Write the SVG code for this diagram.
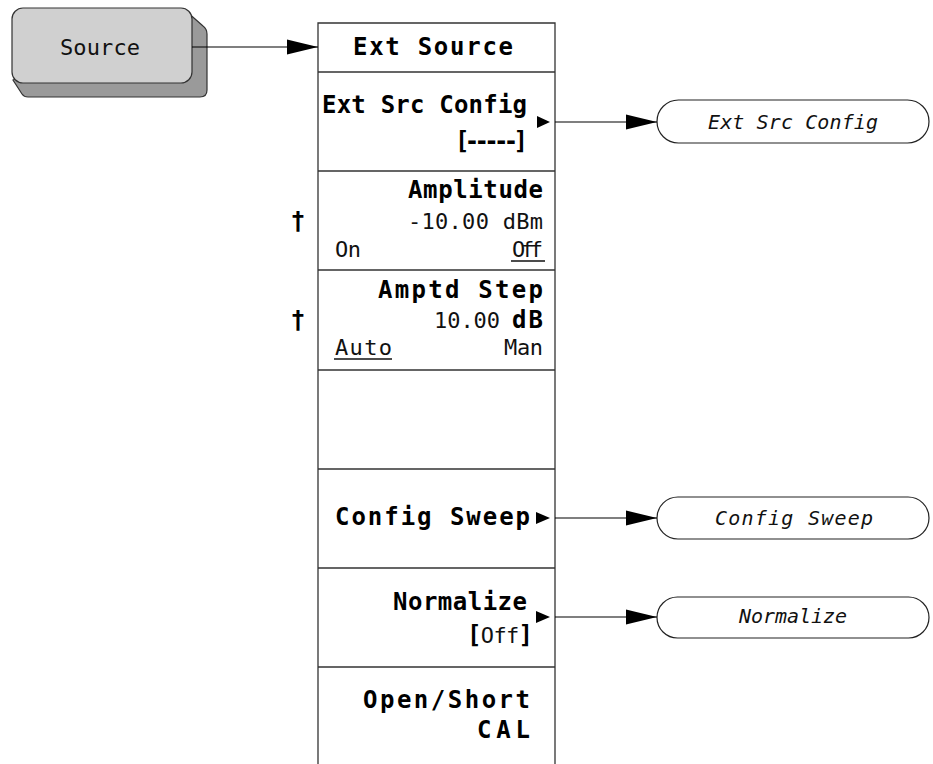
<svg xmlns="http://www.w3.org/2000/svg" width="933" height="764" viewBox="0 0 933 764">
<style>
.b{font-family:"DejaVu Sans Mono","Liberation Mono",monospace;font-weight:bold;font-size:24px;fill:#000}
.r{font-family:"DejaVu Sans Mono","Liberation Mono",monospace;font-size:22px;fill:#111}
.i{font-family:"DejaVu Sans Mono","Liberation Mono",monospace;font-style:italic;font-size:20px;fill:#111}
.ln{stroke:#333;stroke-width:1.3;fill:none}
.cn{stroke:#000;stroke-width:1.2;fill:none}
.ov{fill:#fff;stroke:#222;stroke-width:1.2}
.tri{fill:#000}
</style>
<defs>
<marker id="ah" markerUnits="userSpaceOnUse" markerWidth="31" markerHeight="18" refX="31" refY="9" orient="auto">
<path d="M0,1.5 L31,9 L0,16.5 Z" fill="#000"/>
</marker>
</defs>
<rect width="933" height="764" fill="#fff"/>

<g id="source">
<path d="M186 11 L203 26 Q207 29 207 34 L207 90 Q207 97 200 97 L28 97 Q24 97 22 94 L13 80 Z" fill="#9a9a9a" stroke="#333" stroke-width="1.2"/>
<rect x="12" y="8" width="180" height="75" rx="11" fill="#d0d0d0" stroke="#333" stroke-width="1.2"/>
<text class="r" x="60" y="55" textLength="80" lengthAdjust="spacing">Source</text>
</g>

<g id="menu">
<path class="ln" d="M318 764 L318 23 L555 23 L555 764"/>
<path class="ln" d="M318 72 H555 M318 171 H555 M318 270 H555 M318 370 H555 M318 469 H555 M318 568 H555 M318 667 H555"/>
</g>

<g id="ext-source">
<text class="b" x="353" y="55" textLength="160" lengthAdjust="spacing">Ext Source</text>
</g>

<g id="ext-src-config-key">
<text class="b" x="322" y="113" textLength="205" lengthAdjust="spacing">Ext Src Config</text>
<text class="b" x="455" y="149" textLength="73" lengthAdjust="spacing">[-----]</text>
<polygon class="tri" points="537,116 550,122 537,128"/>
</g>

<g id="amplitude">
<text class="b" x="408" y="198" textLength="135" lengthAdjust="spacing">Amplitude</text>
<text class="r" x="408" y="229" textLength="135" lengthAdjust="spacing">-10.00 dBm</text>
<text class="r" x="335" y="257" textLength="26" lengthAdjust="spacing">On</text>
<text class="r" x="512" y="257" textLength="31" lengthAdjust="spacing">Off</text>
<line x1="511" y1="261" x2="545" y2="261" stroke="#111" stroke-width="1.5"/>
<text class="b" x="298" y="229" text-anchor="middle">†</text>
</g>

<g id="amptd-step">
<text class="b" x="378" y="298" textLength="165" lengthAdjust="spacing">Amptd Step</text>
<text class="r" x="434" y="328" textLength="66" lengthAdjust="spacing">10.00</text>
<text class="b" x="512" y="328" textLength="31" lengthAdjust="spacing">dB</text>
<text class="r" x="335" y="355" textLength="57" lengthAdjust="spacing">Auto</text>
<line x1="334" y1="359" x2="392" y2="359" stroke="#111" stroke-width="1.5"/>
<text class="r" x="504" y="355" textLength="39" lengthAdjust="spacing">Man</text>
<text class="b" x="298" y="328" text-anchor="middle">†</text>
</g>

<g id="config-sweep-key">
<text class="b" x="335" y="525" textLength="195" lengthAdjust="spacing">Config Sweep</text>
<polygon class="tri" points="536,512 550,518 536,524"/>
</g>

<g id="normalize-key">
<text class="b" x="393" y="610" textLength="134" lengthAdjust="spacing">Normalize</text>
<text x="467" y="643" textLength="66" lengthAdjust="spacing"><tspan class="b">[</tspan><tspan class="r">Off</tspan><tspan class="b">]</tspan></text>
<polygon class="tri" points="536,611 550,617 536,623"/>
</g>

<g id="open-short-cal">
<text class="b" x="363" y="708" textLength="167" lengthAdjust="spacing">Open/Short</text>
<text class="b" x="477" y="738" textLength="53" lengthAdjust="spacing">CAL</text>
</g>

<g id="ext-src-config-menu">
<rect class="ov" x="657" y="100" width="272" height="43" rx="21.5"/>
<text class="i" x="793" y="129" text-anchor="middle" textLength="170" lengthAdjust="spacing">Ext Src Config</text>
</g>

<g id="config-sweep-menu">
<rect class="ov" x="657" y="497" width="272" height="42" rx="21"/>
<text class="i" x="794" y="525" text-anchor="middle" textLength="158" lengthAdjust="spacing">Config Sweep</text>
</g>

<g id="normalize-menu">
<rect class="ov" x="657" y="597" width="272" height="41" rx="20.5"/>
<text class="i" x="793" y="623" text-anchor="middle" textLength="108" lengthAdjust="spacing">Normalize</text>
</g>

<g id="connectors">
<line class="cn" x1="192" y1="47" x2="318" y2="47" marker-end="url(#ah)"/>
<line class="cn" x1="555" y1="122" x2="657" y2="122" marker-end="url(#ah)"/>
<line class="cn" x1="555" y1="518" x2="657" y2="518" marker-end="url(#ah)"/>
<line class="cn" x1="555" y1="617" x2="657" y2="617" marker-end="url(#ah)"/>
</g>
</svg>
